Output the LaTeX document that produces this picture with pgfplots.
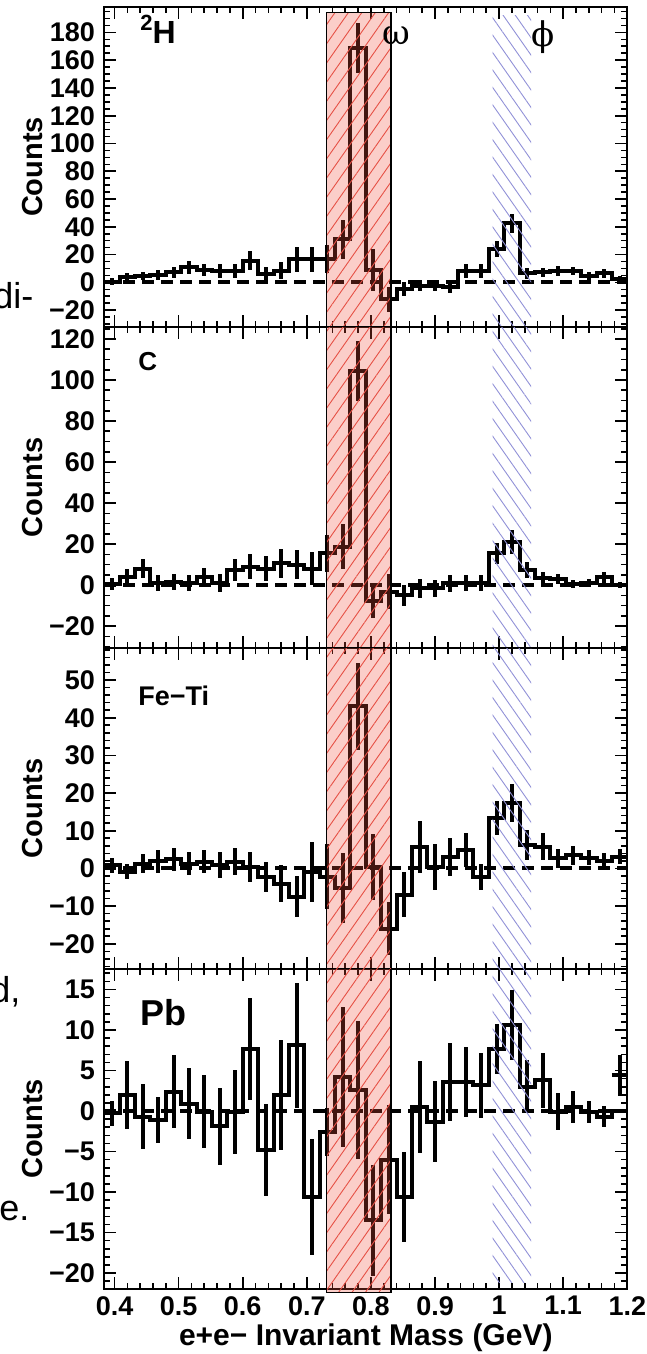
\documentclass[border=0pt]{standalone}
\usepackage{pgfplots}
\pgfplotsset{compat=1.18}
\usepackage{pgfplotstable}
\usetikzlibrary{patterns.meta}
\usepackage{fontspec}
\setmainfont{Liberation Sans}
\newfontfamily\greekfont{DejaVu Serif}

\definecolor{bandred}{RGB}{240,80,60}
\definecolor{hatchred}{RGB}{230,80,70}
\definecolor{hatchblue}{RGB}{145,145,215}

% 2H
\pgfplotstableread{
l c h y e
0.384 0.396 0.5 0.5 2.5
0.408 0.420 3.6 3.6 3
0.432 0.444 4.8 4.8 3
0.456 0.468 5.5 5.5 3.5
0.480 0.492 7.2 7.2 4
0.504 0.516 10.8 10.8 4.5
0.528 0.540 8.9 8.9 4.5
0.552 0.564 8.4 8.4 5
0.576 0.588 8.4 8.4 5
0.600 0.612 15.6 15.6 7
0.624 0.636 6 6 5
0.648 0.660 8.4 8.4 6
0.672 0.684 16.8 16.8 9
0.696 0.708 16.8 16.8 9
0.720 0.732 16.8 16.8 10
0.744 0.756 31 31 14
0.768 0.780 169 169 18
0.792 0.804 8.9 8.9 15
0.816 0.828 -12 -12 9
0.840 0.852 -5 -5 5
0.864 0.876 -2.4 -2.4 4
0.888 0.900 -2.4 -2.4 4
0.912 0.924 -3.6 -3.6 4
0.936 0.948 8.4 8.4 5
0.960 0.972 8.4 8.4 5
0.984 0.996 24 24 6
1.008 1.020 42.5 42.5 7
1.032 1.044 6.5 6.5 4
1.056 1.068 7.2 7.2 3.5
1.080 1.092 8.4 8.4 3.5
1.104 1.116 8 8 3
1.128 1.140 4.8 4.8 3
1.152 1.164 6.5 6.5 3
1.176 1.188 2.4 2.4 2.5
1.200 nan 2.4 2.4 0
}\tabH

% C
\pgfplotstableread{
l c h y e
0.384 0.396 0.5 0.5 3
0.408 0.420 4 4 4
0.432 0.444 8 8 4.5
0.456 0.468 1 1 4
0.480 0.492 1.6 1.6 4
0.504 0.516 1 1 4
0.528 0.540 3.7 3.7 4.5
0.552 0.564 1 1 4.5
0.576 0.588 7.3 7.3 5.5
0.600 0.612 9 9 6
0.624 0.636 8 8 6
0.648 0.660 10.6 10.6 7
0.672 0.684 10 10 7
0.696 0.708 8 8 8
0.720 0.732 15.4 15.4 9
0.744 0.756 18.7 18.7 11
0.768 0.780 104.6 104.6 14.6
0.792 0.804 -8 -8 8
0.816 0.828 -3.3 -3.3 8.5
0.840 0.852 -5 -5 5
0.864 0.876 -1.6 -1.6 4.5
0.888 0.900 -1.6 -1.6 4
0.912 0.924 0.8 0.8 4
0.936 0.948 1.1 1.1 4
0.960 0.972 1.1 1.1 4
0.984 0.996 15.4 15.4 5
1.008 1.020 21 21 5.7
1.032 1.044 7.3 7.3 4
1.056 1.068 3.3 3.3 3
1.080 1.092 2.8 2.8 2.5
1.104 1.116 0.5 0.5 2
1.128 1.140 1.1 1.1 2
1.152 1.164 3.7 3.7 2.5
1.176 1.188 0 0 1.5
1.200 nan 0 0 0
}\tabC

% Fe-Ti
\pgfplotstableread{
l c h y e
0.384 0.396 0.9 0.9 2
0.408 0.420 -0.9 -0.9 2
0.432 0.444 1.3 1.3 2.5
0.456 0.468 1.9 1.9 3
0.480 0.492 2.4 2.4 3
0.504 0.516 1.3 1.3 3
0.528 0.540 1.8 1.8 3
0.552 0.564 0.9 0.9 3.5
0.576 0.588 1.8 1.8 3.5
0.600 0.612 0.4 0.4 4
0.624 0.636 -2.2 -2.2 4
0.648 0.660 -4 -4 5
0.672 0.684 -7.5 -7.5 5.5
0.696 0.708 -0.9 -0.9 8
0.720 0.732 -2.2 -2.2 8.6
0.744 0.756 -5.3 -5.3 9.3
0.768 0.780 43 43 11.5
0.792 0.804 0.4 0.4 8.8
0.816 0.828 -16 -16 7
0.840 0.852 -7 -7 6
0.864 0.876 5.8 5.8 6.9
0.888 0.900 0.4 0.4 6
0.912 0.924 3.1 3.1 5
0.936 0.948 4.9 4.9 4.5
0.960 0.972 -2.2 -2.2 3.5
0.984 0.996 13.3 13.3 4.5
1.008 1.020 17.3 17.3 5
1.032 1.044 6.2 6.2 4
1.056 1.068 5.8 5.8 3.5
1.080 1.092 2.7 2.7 2.5
1.104 1.116 3.5 3.5 2.5
1.128 1.140 2.9 2.9 2
1.152 1.164 2 2 2
1.176 1.188 3.1 3.1 2
1.200 nan 3.1 3.1 0
}\tabF

% Pb
\pgfplotstableread{
l c h y e
0.384 0.396 -0.3 -0.3 1.5
0.408 0.420 2 2 4.2
0.432 0.444 -0.7 -0.7 4
0.456 0.468 -1.1 -1.1 2.8
0.480 0.492 2.4 2.4 4.5
0.504 0.516 0.9 0.9 4.4
0.528 0.540 -0.1 -0.1 4.5
0.552 0.564 -1.9 -1.9 4.8
0.576 0.588 -0.1 -0.1 5.2
0.600 0.612 7.7 7.7 6.3
0.624 0.636 -4.8 -4.8 5.7
0.648 0.660 2 2 6.8
0.672 0.684 8.1 8.1 7.7
0.696 0.708 -10.6 -10.6 7.2
0.720 0.732 -2.6 -2.6 3
0.744 0.756 4.2 4.2 8.6
0.768 0.780 2.6 2.6 8.5
0.792 0.804 -13.5 -13.5 6.8
0.816 0.828 -6 -6 6.7
0.840 0.852 -10.6 -10.6 5.6
0.864 0.876 0.5 0.5 5.7
0.888 0.900 -1.3 -1.3 5
0.912 0.924 3.6 3.6 4.8
0.936 0.948 3.6 3.6 4.3
0.960 0.972 3.2 3.2 4
0.984 0.996 7.7 7.7 3.1
1.008 1.020 10.6 10.6 4.3
1.032 1.044 3 3 3.3
1.056 1.068 3.8 3.8 3.4
1.080 1.092 -0.1 -0.1 2.3
1.104 1.116 0.5 0.5 2
1.128 1.140 -0.1 -0.1 1.4
1.152 1.164 -0.7 -0.7 1.3
1.176 1.188 0 4.4 2.5
1.200 nan 0 0 0
}\tabP

\pgfplotsset{
  panel/.style={
    scale only axis, width=261.5pt, height=160.325pt,
    xmin=0.384, xmax=1.2, clip=false,
    axis line style={line width=0.9pt},
    every tick/.style={black, line width=0.8pt},
    major tick length=6pt, minor tick length=3pt,
    tick align=inside,
    xtick={0.4,0.5,0.6,0.7,0.8,0.9,1.0,1.1,1.2},
    minor x tick num=4,
    xticklabels={},
    ylabel={Counts},
    every axis y label/.style={at={(axis description cs:-0.1363,0.5)}, anchor=center, rotate=90,
      font=\fontsize{14.5}{16}\selectfont\bfseries},
    yticklabel style={font=\fontsize{13.5}{15}\selectfont\bfseries, xshift=-1.2pt},
    xticklabel style={font=\fontsize{13.5}{15}\selectfont\bfseries},
  },
  hist/.style={const plot, black, line width=2pt, line join=miter, mark=none},
  errs/.style={draw=none, mark=none, unbounded coords=discard,
    error bars/.cd, y dir=both, y explicit,
    error bar style={draw=black, line width=2pt, solid}, error mark=none},
  zero/.style={black, line width=2pt, dash pattern=on 6pt off 3.5pt},
}
\tikzset{
  redhatch/.style={pattern={Lines[angle=55,distance=5.5pt,line width=0.45pt]}, pattern color=hatchred},
  bluehatch/.style={pattern={Lines[angle=125,distance=5pt,line width=0.45pt]}, pattern color=hatchblue},
}

\begin{document}
\begin{tikzpicture}
\path[use as bounding box] (0pt,0pt) rectangle (323.5pt,-677pt);

% Panel 1: 2H
\begin{axis}[panel, at={(52.15pt,-3.35pt)}, anchor=north west,
  ymin=-32.4, ymax=198.5,
  ytick={-20,0,20,40,60,80,100,120,140,160,180},
  yticklabels={−20,0,20,40,60,80,100,120,140,160,180},
  minor ytick={-30,-25,...,195}]
  \addplot[zero] coordinates {(0.384,0) (1.2,0)};
  \addplot[hist] table[x=l,y=h]{\tabH};
  \addplot[errs] table[x=c,y=y,y error=e]{\tabH};
  \fill[bandred, fill opacity=0.28] (axis cs:0.731,-32.4) rectangle (axis cs:0.831,194.2);
  \fill[redhatch, fill opacity=0.6] (axis cs:0.731,-32.4) rectangle (axis cs:0.831,194.2);
  \draw[black, line width=0.75pt] (axis cs:0.731,-32.4) -- (axis cs:0.731,194.2) -- (axis cs:0.831,194.2) -- (axis cs:0.831,-32.4);
  \fill[bluehatch] (axis cs:0.99,-32.4) rectangle (axis cs:1.05,192.5);
\end{axis}

% Panel 2: C
\begin{axis}[panel, at={(52.15pt,-163.675pt)}, anchor=north west,
  ymin=-30.7, ymax=125.7,
  ytick={-20,0,20,40,60,80,100,120},
  yticklabels={−20,0,20,40,60,80,100,120},
  minor ytick={-30,-25,...,125}]
  \addplot[zero] coordinates {(0.384,0) (1.2,0)};
  \addplot[hist] table[x=l,y=h]{\tabC};
  \addplot[errs] table[x=c,y=y,y error=e]{\tabC};
  \fill[bandred, fill opacity=0.28] (axis cs:0.731,-30.7) rectangle (axis cs:0.831,125.7);
  \fill[redhatch, fill opacity=0.6] (axis cs:0.731,-30.7) rectangle (axis cs:0.831,125.7);
  \draw[black, line width=0.75pt] (axis cs:0.731,-30.7) -- (axis cs:0.731,125.7);
  \draw[black, line width=0.75pt] (axis cs:0.831,-30.7) -- (axis cs:0.831,125.7);
  \fill[bluehatch] (axis cs:0.99,-30.7) rectangle (axis cs:1.05,125.7);
\end{axis}

% Panel 3: Fe-Ti
\begin{axis}[panel, at={(52.15pt,-324pt)}, anchor=north west,
  ymin=-26.6, ymax=58.5,
  ytick={-20,-10,0,10,20,30,40,50},
  yticklabels={−20,−10,0,10,20,30,40,50},
  minor ytick={-26,-24,...,58}]
  \addplot[zero] coordinates {(0.384,0) (1.2,0)};
  \addplot[hist] table[x=l,y=h]{\tabF};
  \addplot[errs] table[x=c,y=y,y error=e]{\tabF};
  \fill[bandred, fill opacity=0.28] (axis cs:0.731,-26.6) rectangle (axis cs:0.831,58.5);
  \fill[redhatch, fill opacity=0.6] (axis cs:0.731,-26.6) rectangle (axis cs:0.831,58.5);
  \draw[black, line width=0.75pt] (axis cs:0.731,-26.6) -- (axis cs:0.731,58.5);
  \draw[black, line width=0.75pt] (axis cs:0.831,-26.6) -- (axis cs:0.831,58.5);
  \fill[bluehatch] (axis cs:0.99,-26.6) rectangle (axis cs:1.05,58.5);
\end{axis}

% Panel 4: Pb
\begin{axis}[panel, at={(52.15pt,-484.325pt)}, anchor=north west,
  ymin=-22.0, ymax=17.57,
  ytick={-20,-15,-10,-5,0,5,10,15},
  yticklabels={−20,−15,−10,−5,0,5,10,15},
  minor ytick={-22,-21,...,17},
  xticklabels={0.4,0.5,0.6,0.7,0.8,0.9,1,1.1,1.2},
  xlabel={e+e− Invariant Mass (GeV)},
  every axis x label/.style={at={(axis description cs:0.5,0)}, anchor=base, yshift=-27.85pt,
    font=\fontsize{15}{18}\selectfont\bfseries}]
  \addplot[zero] coordinates {(0.384,0) (1.2,0)};
  \addplot[hist] table[x=l,y=h]{\tabP};
  \addplot[errs] table[x=c,y=y,y error=e]{\tabP};
  \addplot[black, line width=2pt, mark=none] coordinates {(1.176,4.4) (1.2,4.4)};
  \fill[bandred, fill opacity=0.28] (axis cs:0.731,-22.42) rectangle (axis cs:0.831,17.57);
  \fill[redhatch, fill opacity=0.6] (axis cs:0.731,-22.42) rectangle (axis cs:0.831,17.57);
  \draw[black, line width=0.75pt] (axis cs:0.731,17.57) -- (axis cs:0.731,-22.42) -- (axis cs:0.831,-22.42) -- (axis cs:0.831,17.57);
  \fill[bluehatch] (axis cs:0.99,-21.2) rectangle (axis cs:1.05,17.57);
\end{axis}

% panel labels
\node[anchor=base west, inner sep=0, font=\fontsize{16}{18}\selectfont\bfseries] at (70pt,-22pt) {\raisebox{6.5pt}{\fontsize{11}{12}\selectfont 2}H};
\node[anchor=base west, inner sep=0, font=\fontsize{13}{15}\selectfont\bfseries] at (69pt,-185pt) {C};
\node[anchor=base west, inner sep=0, font=\fontsize{13.5}{15}\selectfont\bfseries] at (69pt,-352.5pt) {Fe−Ti};
\node[anchor=base west, inner sep=0, font=\fontsize{18}{20}\selectfont\bfseries] at (70pt,-512.5pt) {Pb};
\node[anchor=base, inner sep=0, font=\greekfont\fontsize{17}{20}\selectfont] at (198.25pt,-22.5pt) {ω};
\node[anchor=base, inner sep=0, font=\greekfont\fontsize{17}{20}\selectfont] at (271.4pt,-23.5pt) {ϕ};

% cropped text of the surrounding page
\node[anchor=base west, inner sep=0, font=\fontsize{18}{20}\selectfont] at (-3.5pt,-154pt) {di-};
\node[anchor=base west, inner sep=0, font=\fontsize{18}{20}\selectfont] at (-5pt,-501pt) {d,};
\node[anchor=base west, inner sep=0, font=\fontsize{18}{20}\selectfont] at (-0.5pt,-610pt) {e.};
\end{tikzpicture}
\end{document}
